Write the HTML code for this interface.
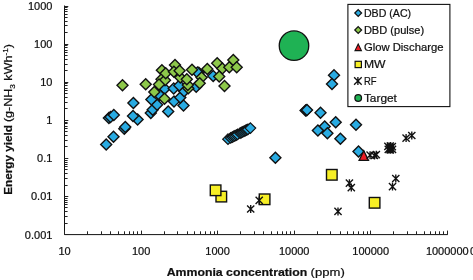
<!DOCTYPE html>
<html><head><meta charset="utf-8"><title>Energy yield vs ammonia concentration</title>
<style>
html,body{margin:0;padding:0;background:#fff;}
body{width:473px;height:280px;overflow:hidden;}
text{stroke:#111;stroke-width:0.22px;}
svg{display:block;position:absolute;left:0;top:0;will-change:transform;font-family:"Liberation Sans",sans-serif;fill:#111;}
</style></head><body>
<svg width="473" height="280" viewBox="0 0 473 280">
<rect width="473" height="280" fill="#fff"/>
<path d="M64.5 5.5V234.6H447.8" fill="none" stroke="#111" stroke-width="1.0"/>
<path d="M64.5 6.5h3.8M64.5 32.5h3.1M64.5 25.5h3.1M64.5 21.5h3.1M64.5 17.5h3.1M64.5 14.5h3.1M64.5 11.5h3.1M64.5 9.5h3.1M64.5 7.5h3.1M64.5 44.5h3.8M64.5 70.5h3.1M64.5 64.5h3.1M64.5 59.5h3.1M64.5 55.5h3.1M64.5 52.5h3.1M64.5 50.5h3.1M64.5 47.5h3.1M64.5 45.5h3.1M64.5 82.5h3.8M64.5 108.5h3.1M64.5 102.5h3.1M64.5 97.5h3.1M64.5 93.5h3.1M64.5 90.5h3.1M64.5 88.5h3.1M64.5 85.5h3.1M64.5 83.5h3.1M64.5 120.5h3.8M64.5 146.5h3.1M64.5 140.5h3.1M64.5 135.5h3.1M64.5 131.5h3.1M64.5 128.5h3.1M64.5 126.5h3.1M64.5 123.5h3.1M64.5 122.5h3.1M64.5 158.5h3.8M64.5 185.5h3.1M64.5 178.5h3.1M64.5 173.5h3.1M64.5 169.5h3.1M64.5 166.5h3.1M64.5 164.5h3.1M64.5 162.5h3.1M64.5 160.5h3.1M64.5 196.5h3.8M64.5 223.5h3.1M64.5 216.5h3.1M64.5 211.5h3.1M64.5 207.5h3.1M64.5 204.5h3.1M64.5 202.5h3.1M64.5 200.5h3.1M64.5 198.5h3.1M64.5 234.5h3.8M64.5 234.6v-4M87.5 234.6v-3.3M101.5 234.6v-3.3M110.5 234.6v-3.3M118.5 234.6v-3.3M124.5 234.6v-3.3M129.5 234.6v-3.3M133.5 234.6v-3.3M137.5 234.6v-3.3M141.5 234.6v-4M164.5 234.6v-3.3M177.5 234.6v-3.3M187.5 234.6v-3.3M194.5 234.6v-3.3M200.5 234.6v-3.3M205.5 234.6v-3.3M210.5 234.6v-3.3M214.5 234.6v-3.3M217.5 234.6v-4M240.5 234.6v-3.3M254.5 234.6v-3.3M263.5 234.6v-3.3M271.5 234.6v-3.3M277.5 234.6v-3.3M282.5 234.6v-3.3M286.5 234.6v-3.3M290.5 234.6v-3.3M294.5 234.6v-4M317.5 234.6v-3.3M330.5 234.6v-3.3M340.5 234.6v-3.3M347.5 234.6v-3.3M353.5 234.6v-3.3M358.5 234.6v-3.3M363.5 234.6v-3.3M367.5 234.6v-3.3M370.5 234.6v-4M393.5 234.6v-3.3M407.5 234.6v-3.3M416.5 234.6v-3.3M424.5 234.6v-3.3M430.5 234.6v-3.3M435.5 234.6v-3.3M439.5 234.6v-3.3M443.5 234.6v-3.3M447.5 234.6v-4" fill="none" stroke="#222" stroke-width="1"/>
<path d="M106.2 138.9L111.7 144.4L106.2 149.9L100.7 144.4Z" fill="#29ABE2" stroke="#111" stroke-width="1.4" stroke-linejoin="miter"/>
<path d="M113.5 131.3L119.0 136.8L113.5 142.3L108.0 136.8Z" fill="#29ABE2" stroke="#111" stroke-width="1.4" stroke-linejoin="miter"/>
<path d="M124.3 123.2L129.8 128.7L124.3 134.2L118.8 128.7Z" fill="#29ABE2" stroke="#111" stroke-width="1.4" stroke-linejoin="miter"/>
<path d="M125.3 121.6L130.8 127.1L125.3 132.6L119.8 127.1Z" fill="#29ABE2" stroke="#111" stroke-width="1.4" stroke-linejoin="miter"/>
<path d="M108.9 112.5L114.4 118.0L108.9 123.5L103.4 118.0Z" fill="#29ABE2" stroke="#111" stroke-width="1.4" stroke-linejoin="miter"/>
<path d="M110.5 111.5L116.0 117.0L110.5 122.5L105.0 117.0Z" fill="#29ABE2" stroke="#111" stroke-width="1.4" stroke-linejoin="miter"/>
<path d="M113.8 109.4L119.3 114.9L113.8 120.4L108.3 114.9Z" fill="#29ABE2" stroke="#111" stroke-width="1.4" stroke-linejoin="miter"/>
<path d="M137.6 114.0L143.1 119.5L137.6 125.0L132.1 119.5Z" fill="#29ABE2" stroke="#111" stroke-width="1.4" stroke-linejoin="miter"/>
<path d="M133.0 110.6L138.5 116.1L133.0 121.6L127.5 116.1Z" fill="#29ABE2" stroke="#111" stroke-width="1.4" stroke-linejoin="miter"/>
<path d="M133.4 97.4L138.9 102.9L133.4 108.4L127.9 102.9Z" fill="#29ABE2" stroke="#111" stroke-width="1.4" stroke-linejoin="miter"/>
<path d="M150.8 107.4L156.3 112.9L150.8 118.4L145.3 112.9Z" fill="#29ABE2" stroke="#111" stroke-width="1.4" stroke-linejoin="miter"/>
<path d="M152.7 104.2L158.2 109.7L152.7 115.2L147.2 109.7Z" fill="#29ABE2" stroke="#111" stroke-width="1.4" stroke-linejoin="miter"/>
<path d="M157.1 99.2L162.6 104.7L157.1 110.2L151.6 104.7Z" fill="#29ABE2" stroke="#111" stroke-width="1.4" stroke-linejoin="miter"/>
<path d="M151.4 94.1L156.9 99.6L151.4 105.1L145.9 99.6Z" fill="#29ABE2" stroke="#111" stroke-width="1.4" stroke-linejoin="miter"/>
<path d="M168.2 106.1L173.7 111.6L168.2 117.1L162.7 111.6Z" fill="#29ABE2" stroke="#111" stroke-width="1.4" stroke-linejoin="miter"/>
<path d="M174.0 96.0L179.5 101.5L174.0 107.0L168.5 101.5Z" fill="#29ABE2" stroke="#111" stroke-width="1.4" stroke-linejoin="miter"/>
<path d="M183.5 99.9L189.0 105.4L183.5 110.9L178.0 105.4Z" fill="#29ABE2" stroke="#111" stroke-width="1.4" stroke-linejoin="miter"/>
<path d="M180.3 92.0L185.8 97.5L180.3 103.0L174.8 97.5Z" fill="#29ABE2" stroke="#111" stroke-width="1.4" stroke-linejoin="miter"/>
<path d="M164.7 83.3L170.2 88.8L164.7 94.3L159.2 88.8Z" fill="#29ABE2" stroke="#111" stroke-width="1.4" stroke-linejoin="miter"/>
<path d="M173.7 83.0L179.2 88.5L173.7 94.0L168.2 88.5Z" fill="#29ABE2" stroke="#111" stroke-width="1.4" stroke-linejoin="miter"/>
<path d="M184.2 85.7L189.7 91.2L184.2 96.7L178.7 91.2Z" fill="#29ABE2" stroke="#111" stroke-width="1.4" stroke-linejoin="miter"/>
<path d="M179.3 80.0L184.8 85.5L179.3 91.0L173.8 85.5Z" fill="#29ABE2" stroke="#111" stroke-width="1.4" stroke-linejoin="miter"/>
<path d="M159.5 89.5L165.0 95.0L159.5 100.5L154.0 95.0Z" fill="#29ABE2" stroke="#111" stroke-width="1.4" stroke-linejoin="miter"/>
<path d="M196.2 81.3L201.7 86.8L196.2 92.3L190.7 86.8Z" fill="#29ABE2" stroke="#111" stroke-width="1.4" stroke-linejoin="miter"/>
<path d="M198.8 67.3L204.3 72.8L198.8 78.3L193.3 72.8Z" fill="#29ABE2" stroke="#111" stroke-width="1.4" stroke-linejoin="miter"/>
<path d="M197.5 66.9L203.0 72.4L197.5 77.9L192.0 72.4Z" fill="#29ABE2" stroke="#111" stroke-width="1.4" stroke-linejoin="miter"/>
<path d="M213.2 70.5L218.7 76.0L213.2 81.5L207.7 76.0Z" fill="#29ABE2" stroke="#111" stroke-width="1.4" stroke-linejoin="miter"/>
<path d="M122.5 79.7L128.0 85.2L122.5 90.7L117.0 85.2Z" fill="#8DC84A" stroke="#111" stroke-width="1.4" stroke-linejoin="miter"/>
<path d="M145.7 78.7L151.2 84.2L145.7 89.7L140.2 84.2Z" fill="#8DC84A" stroke="#111" stroke-width="1.4" stroke-linejoin="miter"/>
<path d="M161.9 64.7L167.4 70.2L161.9 75.7L156.4 70.2Z" fill="#8DC84A" stroke="#111" stroke-width="1.4" stroke-linejoin="miter"/>
<path d="M161.5 73.7L167.0 79.2L161.5 84.7L156.0 79.2Z" fill="#8DC84A" stroke="#111" stroke-width="1.4" stroke-linejoin="miter"/>
<path d="M165.0 74.7L170.5 80.2L165.0 85.7L159.5 80.2Z" fill="#8DC84A" stroke="#111" stroke-width="1.4" stroke-linejoin="miter"/>
<path d="M165.7 67.7L171.2 73.2L165.7 78.7L160.2 73.2Z" fill="#8DC84A" stroke="#111" stroke-width="1.4" stroke-linejoin="miter"/>
<path d="M175.0 59.4L180.5 64.9L175.0 70.4L169.5 64.9Z" fill="#8DC84A" stroke="#111" stroke-width="1.4" stroke-linejoin="miter"/>
<path d="M173.9 66.3L179.4 71.8L173.9 77.3L168.4 71.8Z" fill="#8DC84A" stroke="#111" stroke-width="1.4" stroke-linejoin="miter"/>
<path d="M180.3 72.0L185.8 77.5L180.3 83.0L174.8 77.5Z" fill="#8DC84A" stroke="#111" stroke-width="1.4" stroke-linejoin="miter"/>
<path d="M179.6 65.2L185.1 70.7L179.6 76.2L174.1 70.7Z" fill="#8DC84A" stroke="#111" stroke-width="1.4" stroke-linejoin="miter"/>
<path d="M159.0 79.1L164.5 84.6L159.0 90.1L153.5 84.6Z" fill="#8DC84A" stroke="#111" stroke-width="1.4" stroke-linejoin="miter"/>
<path d="M154.3 86.5L159.8 92.0L154.3 97.5L148.8 92.0Z" fill="#8DC84A" stroke="#111" stroke-width="1.4" stroke-linejoin="miter"/>
<path d="M164.5 93.2L170.0 98.7L164.5 104.2L159.0 98.7Z" fill="#8DC84A" stroke="#111" stroke-width="1.4" stroke-linejoin="miter"/>
<path d="M188.3 82.7L193.8 88.2L188.3 93.7L182.8 88.2Z" fill="#8DC84A" stroke="#111" stroke-width="1.4" stroke-linejoin="miter"/>
<path d="M187.8 79.5L193.3 85.0L187.8 90.5L182.3 85.0Z" fill="#8DC84A" stroke="#111" stroke-width="1.4" stroke-linejoin="miter"/>
<path d="M186.8 73.8L192.3 79.3L186.8 84.8L181.3 79.3Z" fill="#8DC84A" stroke="#111" stroke-width="1.4" stroke-linejoin="miter"/>
<path d="M192.0 64.3L197.5 69.8L192.0 75.3L186.5 69.8Z" fill="#8DC84A" stroke="#111" stroke-width="1.4" stroke-linejoin="miter"/>
<path d="M201.6 72.1L207.1 77.6L201.6 83.1L196.1 77.6Z" fill="#8DC84A" stroke="#111" stroke-width="1.4" stroke-linejoin="miter"/>
<path d="M199.7 77.8L205.2 83.3L199.7 88.8L194.2 83.3Z" fill="#8DC84A" stroke="#111" stroke-width="1.4" stroke-linejoin="miter"/>
<path d="M207.3 63.6L212.8 69.1L207.3 74.6L201.8 69.1Z" fill="#8DC84A" stroke="#111" stroke-width="1.4" stroke-linejoin="miter"/>
<path d="M217.2 57.8L222.7 63.3L217.2 68.8L211.7 63.3Z" fill="#8DC84A" stroke="#111" stroke-width="1.4" stroke-linejoin="miter"/>
<path d="M222.3 62.9L227.8 68.4L222.3 73.9L216.8 68.4Z" fill="#8DC84A" stroke="#111" stroke-width="1.4" stroke-linejoin="miter"/>
<path d="M219.2 71.0L224.7 76.5L219.2 82.0L213.7 76.5Z" fill="#8DC84A" stroke="#111" stroke-width="1.4" stroke-linejoin="miter"/>
<path d="M224.5 80.6L230.0 86.1L224.5 91.6L219.0 86.1Z" fill="#8DC84A" stroke="#111" stroke-width="1.4" stroke-linejoin="miter"/>
<path d="M229.3 61.7L234.8 67.2L229.3 72.7L223.8 67.2Z" fill="#8DC84A" stroke="#111" stroke-width="1.4" stroke-linejoin="miter"/>
<path d="M233.3 54.5L238.8 60.0L233.3 65.5L227.8 60.0Z" fill="#8DC84A" stroke="#111" stroke-width="1.4" stroke-linejoin="miter"/>
<path d="M236.7 61.7L242.2 67.2L236.7 72.7L231.2 67.2Z" fill="#8DC84A" stroke="#111" stroke-width="1.4" stroke-linejoin="miter"/>
<path d="M228.0 133.9L233.3 139.2L228.0 144.5L222.7 139.2Z" fill="#29ABE2" stroke="#111" stroke-width="1.2" stroke-linejoin="miter"/>
<path d="M230.7 132.6L236.0 137.9L230.7 143.2L225.4 137.9Z" fill="#29ABE2" stroke="#111" stroke-width="1.2" stroke-linejoin="miter"/>
<path d="M232.3 131.8L237.6 137.1L232.3 142.4L227.0 137.1Z" fill="#29ABE2" stroke="#111" stroke-width="1.2" stroke-linejoin="miter"/>
<path d="M233.6 131.1L238.9 136.4L233.6 141.7L228.3 136.4Z" fill="#29ABE2" stroke="#111" stroke-width="1.2" stroke-linejoin="miter"/>
<path d="M234.9 130.5L240.2 135.8L234.9 141.1L229.6 135.8Z" fill="#29ABE2" stroke="#111" stroke-width="1.2" stroke-linejoin="miter"/>
<path d="M236.3 129.8L241.6 135.1L236.3 140.4L231.0 135.1Z" fill="#29ABE2" stroke="#111" stroke-width="1.2" stroke-linejoin="miter"/>
<path d="M237.6 129.1L242.9 134.4L237.6 139.7L232.3 134.4Z" fill="#29ABE2" stroke="#111" stroke-width="1.2" stroke-linejoin="miter"/>
<path d="M240.1 127.9L245.4 133.2L240.1 138.5L234.8 133.2Z" fill="#29ABE2" stroke="#111" stroke-width="1.2" stroke-linejoin="miter"/>
<path d="M241.4 127.2L246.7 132.5L241.4 137.8L236.1 132.5Z" fill="#29ABE2" stroke="#111" stroke-width="1.2" stroke-linejoin="miter"/>
<path d="M242.8 126.6L248.1 131.9L242.8 137.2L237.5 131.9Z" fill="#29ABE2" stroke="#111" stroke-width="1.2" stroke-linejoin="miter"/>
<path d="M244.1 125.9L249.4 131.2L244.1 136.5L238.8 131.2Z" fill="#29ABE2" stroke="#111" stroke-width="1.2" stroke-linejoin="miter"/>
<path d="M245.5 125.2L250.8 130.5L245.5 135.8L240.2 130.5Z" fill="#29ABE2" stroke="#111" stroke-width="1.2" stroke-linejoin="miter"/>
<path d="M246.8 124.6L252.1 129.9L246.8 135.2L241.5 129.9Z" fill="#29ABE2" stroke="#111" stroke-width="1.2" stroke-linejoin="miter"/>
<path d="M247.9 124.0L253.2 129.3L247.9 134.6L242.6 129.3Z" fill="#29ABE2" stroke="#111" stroke-width="1.2" stroke-linejoin="miter"/>
<path d="M250.4 122.8L255.7 128.1L250.4 133.4L245.1 128.1Z" fill="#29ABE2" stroke="#111" stroke-width="1.2" stroke-linejoin="miter"/>
<path d="M334.0 69.7L339.5 75.2L334.0 80.7L328.5 75.2Z" fill="#29ABE2" stroke="#111" stroke-width="1.4" stroke-linejoin="miter"/>
<path d="M332.0 78.5L337.5 84.0L332.0 89.5L326.5 84.0Z" fill="#29ABE2" stroke="#111" stroke-width="1.4" stroke-linejoin="miter"/>
<path d="M305.6 105.1L311.1 110.6L305.6 116.1L300.1 110.6Z" fill="#29ABE2" stroke="#111" stroke-width="1.4" stroke-linejoin="miter"/>
<path d="M306.3 104.7L311.8 110.2L306.3 115.7L300.8 110.2Z" fill="#29ABE2" stroke="#111" stroke-width="1.4" stroke-linejoin="miter"/>
<path d="M307.0 104.4L312.5 109.9L307.0 115.4L301.5 109.9Z" fill="#29ABE2" stroke="#111" stroke-width="1.4" stroke-linejoin="miter"/>
<path d="M320.5 107.3L326.0 112.8L320.5 118.3L315.0 112.8Z" fill="#29ABE2" stroke="#111" stroke-width="1.4" stroke-linejoin="miter"/>
<path d="M335.7 116.7L341.2 122.2L335.7 127.7L330.2 122.2Z" fill="#29ABE2" stroke="#111" stroke-width="1.4" stroke-linejoin="miter"/>
<path d="M356.0 119.2L361.5 124.7L356.0 130.2L350.5 124.7Z" fill="#29ABE2" stroke="#111" stroke-width="1.4" stroke-linejoin="miter"/>
<path d="M324.7 121.1L330.2 126.6L324.7 132.1L319.2 126.6Z" fill="#29ABE2" stroke="#111" stroke-width="1.4" stroke-linejoin="miter"/>
<path d="M317.9 125.0L323.4 130.5L317.9 136.0L312.4 130.5Z" fill="#29ABE2" stroke="#111" stroke-width="1.4" stroke-linejoin="miter"/>
<path d="M327.4 127.7L332.9 133.2L327.4 138.7L321.9 133.2Z" fill="#29ABE2" stroke="#111" stroke-width="1.4" stroke-linejoin="miter"/>
<path d="M340.4 133.3L345.9 138.8L340.4 144.3L334.9 138.8Z" fill="#29ABE2" stroke="#111" stroke-width="1.4" stroke-linejoin="miter"/>
<path d="M275.4 152.3L280.9 157.8L275.4 163.3L269.9 157.8Z" fill="#29ABE2" stroke="#111" stroke-width="1.4" stroke-linejoin="miter"/>
<path d="M358.5 146.0L364.0 151.5L358.5 157.0L353.0 151.5Z" fill="#29ABE2" stroke="#111" stroke-width="1.4" stroke-linejoin="miter"/>
<rect x="216.0" y="191.3" width="10.6" height="10.6" fill="#F7EF25" stroke="#111" stroke-width="1.4"/>
<rect x="210.3" y="185.0" width="10.6" height="10.6" fill="#F7EF25" stroke="#111" stroke-width="1.4"/>
<rect x="259.3" y="194.0" width="10.6" height="10.6" fill="#F7EF25" stroke="#111" stroke-width="1.4"/>
<rect x="326.5" y="169.5" width="10.6" height="10.6" fill="#F7EF25" stroke="#111" stroke-width="1.4"/>
<rect x="369.3" y="197.5" width="10.6" height="10.6" fill="#F7EF25" stroke="#111" stroke-width="1.4"/>
<path d="M363.8 150.8L368.5 160.4L359.1 160.4Z" fill="#ED1C24" stroke="#111" stroke-width="1.3" stroke-miterlimit="6"/>
<path d="M250.7 205.0V213.0M247.1 205.4L254.3 212.6M247.1 212.6L254.3 205.4" fill="none" stroke="#111" stroke-width="1.35"/>
<path d="M259.2 196.4V204.4M255.6 196.8L262.8 204.0M255.6 204.0L262.8 196.8" fill="none" stroke="#111" stroke-width="1.35"/>
<path d="M338.0 207.4V215.4M334.4 207.8L341.6 215.0M334.4 215.0L341.6 207.8" fill="none" stroke="#111" stroke-width="1.35"/>
<path d="M349.4 179.2V187.2M345.8 179.6L353.0 186.8M345.8 186.8L353.0 179.6" fill="none" stroke="#111" stroke-width="1.35"/>
<path d="M351.3 183.6V191.6M347.7 184.0L354.9 191.2M347.7 191.2L354.9 184.0" fill="none" stroke="#111" stroke-width="1.35"/>
<path d="M395.8 174.5V182.5M392.2 174.9L399.4 182.1M392.2 182.1L399.4 174.9" fill="none" stroke="#111" stroke-width="1.35"/>
<path d="M392.5 182.6V190.6M388.9 183.0L396.1 190.2M388.9 190.2L396.1 183.0" fill="none" stroke="#111" stroke-width="1.35"/>
<path d="M370.1 151.2V159.2M366.5 151.6L373.7 158.8M366.5 158.8L373.7 151.6" fill="none" stroke="#111" stroke-width="1.35"/>
<path d="M374.5 151.5V159.5M370.9 151.9L378.1 159.1M370.9 159.1L378.1 151.9" fill="none" stroke="#111" stroke-width="1.35"/>
<path d="M376.3 150.7V158.7M372.7 151.1L379.9 158.3M372.7 158.3L379.9 151.1" fill="none" stroke="#111" stroke-width="1.35"/>
<path d="M387.9 142.3V150.3M384.3 142.7L391.5 149.9M384.3 149.9L391.5 142.7" fill="none" stroke="#111" stroke-width="1.35"/>
<path d="M389.8 144.9V152.9M386.2 145.3L393.4 152.5M386.2 152.5L393.4 145.3" fill="none" stroke="#111" stroke-width="1.35"/>
<path d="M392.3 142.7V150.7M388.7 143.1L395.9 150.3M388.7 150.3L395.9 143.1" fill="none" stroke="#111" stroke-width="1.35"/>
<path d="M390.3 145.8V153.8M386.7 146.2L393.9 153.4M386.7 153.4L393.9 146.2" fill="none" stroke="#111" stroke-width="1.35"/>
<path d="M388.3 145.4V153.4M384.7 145.8L391.9 153.0M384.7 153.0L391.9 145.8" fill="none" stroke="#111" stroke-width="1.35"/>
<path d="M392.5 145.4V153.4M388.9 145.8L396.1 153.0M388.9 153.0L396.1 145.8" fill="none" stroke="#111" stroke-width="1.35"/>
<path d="M390.3 142.0V150.0M386.7 142.4L393.9 149.6M386.7 149.6L393.9 142.4" fill="none" stroke="#111" stroke-width="1.35"/>
<path d="M390.3 143.9V151.9M386.7 144.3L393.9 151.5M386.7 151.5L393.9 144.3" fill="none" stroke="#111" stroke-width="1.35"/>
<path d="M406.1 134.1V142.1M402.5 134.5L409.7 141.7M402.5 141.7L409.7 134.5" fill="none" stroke="#111" stroke-width="1.35"/>
<path d="M411.8 131.5V139.5M408.2 131.9L415.4 139.1M408.2 139.1L415.4 131.9" fill="none" stroke="#111" stroke-width="1.35"/>
<circle cx="294" cy="45.7" r="14.75" fill="#1FB254" stroke="#111" stroke-width="1.3"/>
<rect x="347.9" y="4.4" width="102" height="102.2" fill="#fff" stroke="#111" stroke-width="1.1"/>
<path d="M358.2 9.6L361.6 13.0L358.2 16.4L354.8 13.0Z" fill="#29ABE2" stroke="#111" stroke-width="1.25" stroke-linejoin="miter"/>
<path d="M358.2 26.6L361.6 30.0L358.2 33.4L354.8 30.0Z" fill="#8DC84A" stroke="#111" stroke-width="1.25" stroke-linejoin="miter"/>
<path d="M358.2 44.1L361.4 50.6L355.0 50.6Z" fill="#ED1C24" stroke="#111" stroke-width="1.1" stroke-miterlimit="6"/>
<rect x="355.1" y="61.3" width="6.3" height="6.3" fill="#F7EF25" stroke="#111" stroke-width="1.2"/>
<path d="M357.9 77.1V84.9M354.1 77.2L361.7 84.8M354.1 84.8L361.7 77.2" fill="none" stroke="#111" stroke-width="1.3"/>
<circle cx="358.2" cy="98" r="3.3" fill="#1FB254" stroke="#111" stroke-width="1.3"/>
<text x="363.9" y="16.9" font-size="10.9" text-anchor="start" font-weight="normal" textLength="47.2" lengthAdjust="spacingAndGlyphs">DBD (AC)</text>
<text x="363.9" y="33.9" font-size="10.9" text-anchor="start" font-weight="normal" textLength="60.2" lengthAdjust="spacingAndGlyphs">DBD (pulse)</text>
<text x="363.9" y="50.9" font-size="10.9" text-anchor="start" font-weight="normal" textLength="79.6" lengthAdjust="spacingAndGlyphs">Glow Discharge</text>
<text x="363.9" y="67.9" font-size="10.9" text-anchor="start" font-weight="normal" textLength="21.6" lengthAdjust="spacingAndGlyphs">MW</text>
<text x="363.9" y="84.9" font-size="10.9" text-anchor="start" font-weight="normal" textLength="12.6" lengthAdjust="spacingAndGlyphs">RF</text>
<text x="363.9" y="101.9" font-size="10.9" text-anchor="start" font-weight="normal" textLength="33.0" lengthAdjust="spacingAndGlyphs">Target</text>
<text x="52.4" y="9.9" font-size="11" text-anchor="end" font-weight="normal">1000</text>
<text x="52.4" y="48.0" font-size="11" text-anchor="end" font-weight="normal">100</text>
<text x="52.4" y="86.1" font-size="11" text-anchor="end" font-weight="normal">10</text>
<text x="52.4" y="124.2" font-size="11" text-anchor="end" font-weight="normal">1</text>
<text x="52.4" y="162.3" font-size="11" text-anchor="end" font-weight="normal">0.1</text>
<text x="52.4" y="200.4" font-size="11" text-anchor="end" font-weight="normal">0.01</text>
<text x="52.4" y="238.5" font-size="11" text-anchor="end" font-weight="normal">0.001</text>
<text x="64.5" y="255.3" font-size="11" text-anchor="middle" font-weight="normal">10</text>
<text x="141.1" y="255.3" font-size="11" text-anchor="middle" font-weight="normal">100</text>
<text x="217.6" y="255.3" font-size="11" text-anchor="middle" font-weight="normal">1000</text>
<text x="294.2" y="255.3" font-size="11" text-anchor="middle" font-weight="normal">10000</text>
<text x="370.7" y="255.3" font-size="11" text-anchor="middle" font-weight="normal">100000</text>
<text x="447.3" y="255.3" font-size="11" text-anchor="middle" font-weight="normal">1000000</text>
<text x="469.9" y="255.3" font-size="11" text-anchor="start" font-weight="normal">0</text>
<text x="166.7" y="276" font-size="11.7" text-anchor="start" font-weight="bold" textLength="140.6" lengthAdjust="spacingAndGlyphs">Ammonia concentration</text>
<text x="310.6" y="276" font-size="11.7" text-anchor="start" font-weight="normal" textLength="34.2" lengthAdjust="spacingAndGlyphs">(ppm)</text>
<g transform="translate(12.1,194.7) rotate(-90)"><text x="0" y="0" font-size="11.6" text-anchor="start" font-weight="bold" textLength="69.7" lengthAdjust="spacingAndGlyphs">Energy yield</text><text x="72.6" y="0" font-size="11.6" textLength="78" lengthAdjust="spacingAndGlyphs">(g-NH<tspan font-size="7.5" dy="2.5">3</tspan><tspan dy="-2.5"> kWh</tspan><tspan font-size="7.5" dy="-4">-1</tspan><tspan dy="4">)</tspan></text></g>
</svg>
</body></html>
